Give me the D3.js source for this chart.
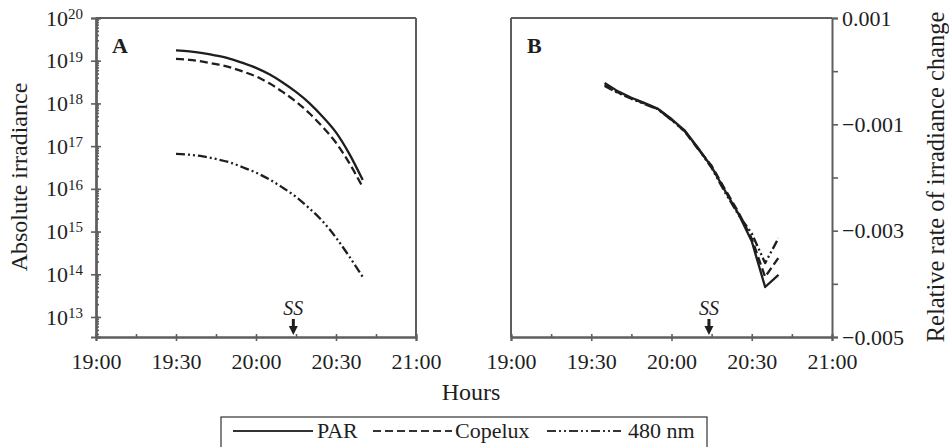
<!DOCTYPE html>
<html>
<head>
<meta charset="utf-8">
<script src="https://cdn.jsdelivr.net/npm/d3@7"></script>
<style>
  body { margin: 0; background: #fff; }
  svg { font-family: "Liberation Serif", "Times New Roman", serif; }
</style>
</head>
<body>
<svg id="chart" width="949" height="447"></svg>
<script>
// ---- data ----
// panel A: absolute irradiance (log scale)
var timesA = ["19:30","19:35","19:40","19:45","19:50","19:55","20:00","20:05","20:10","20:15","20:20","20:25","20:30","20:35","20:40"];
var parA     = [1.74e19,1.66e19,1.51e19,1.32e19,1.12e19,8.9e18,6.8e18,4.8e18,3.1e18,1.86e18,1.02e18,4.9e17,2.1e17,6.6e16,1.62e16];
var copeluxA = [1.10e19,1.05e19,9.5e18,8.3e18,7.1e18,5.6e18,4.3e18,2.95e18,1.86e18,1.10e18,5.9e17,2.8e17,1.2e17,4.0e16,1.10e16];
var nm480A   = [6.6e16,6.3e16,5.75e16,5.0e16,4.2e16,3.2e16,2.4e16,1.66e16,1.07e16,6.5e15,3.5e15,1.74e15,7.2e14,2.6e14,8.7e13];

// panel B: relative rate of irradiance change
var timesB = ["19:35","19:40","19:45","19:50","19:55","20:00","20:05","20:10","20:15","20:20","20:25","20:30","20:35","20:40"];
var parB     = [-0.00022,-0.00038,-0.00050,-0.00060,-0.00071,-0.00090,-0.00112,-0.00145,-0.00180,-0.00225,-0.00268,-0.00320,-0.00406,-0.00383];
var copeluxB = [-0.00025,-0.00040,-0.00051,-0.00061,-0.00072,-0.00091,-0.00114,-0.00147,-0.00178,-0.00222,-0.00265,-0.00315,-0.00387,-0.00351];
var nm480B   = [-0.00028,-0.00041,-0.00052,-0.00062,-0.00072,-0.00092,-0.00113,-0.00146,-0.00182,-0.00228,-0.00270,-0.00305,-0.00361,-0.00314];

var seriesNames = ["PAR", "Copelux", "480 nm"];
var timeTicks = ["19:00","19:30","20:00","20:30","21:00"];
var timeMinorTicks = ["19:00","19:15","19:30","19:45","20:00","20:15","20:30","20:45","21:00"];
var logTicks = [1e13,1e14,1e15,1e16,1e17,1e18,1e19,1e20];
var rateTicks = [0.001,0,-0.001,-0.002,-0.003,-0.004,-0.005];
var rateTickLabels = ["0.001","","\u22120.001","","\u22120.003","","\u22120.005"];
var sunsetTime = "20:14";

// ---- drawing ----
var svg = d3.select('#chart');
var ink = '#1e1e1e', frame = '#5e5e5e';
var dashes = [null, '8,4', '9,3,2,3,2,3'];

function toMin(s) { var p = s.split(':'); return (+p[0] - 19) * 60 + (+p[1]); }

var plotTop = 18, plotBottom = 337;
var xA = d3.scaleLinear().domain([0, 120]).range([96, 416]);
var xB = d3.scaleLinear().domain([0, 120]).range([511, 832]);
var yA = d3.scaleLog().domain([3.4e12, 1e20]).range([plotBottom, plotTop]);
var yB = d3.scaleLinear().domain([-0.005, 0.001]).range([plotBottom, plotTop]);

function styleAxis(g) {
  g.attr('font-family', null).attr('font-size', 22);
  g.selectAll('.domain').attr('stroke', frame).attr('stroke-width', 2);
  g.selectAll('.tick line').attr('stroke', frame).attr('stroke-width', 1.6);
  g.selectAll('.tick text').attr('fill', ink);
}

function timeAxis(x) {
  // minor ticks, inward
  svg.append('g')
    .attr('transform', 'translate(0,' + plotBottom + ')')
    .call(d3.axisBottom(x).tickValues(timeMinorTicks.map(toMin)).tickSize(-3).tickFormat(''))
    .call(styleAxis);
  svg.append('g')
    .attr('transform', 'translate(0,' + plotBottom + ')')
    .call(d3.axisBottom(x).tickValues(timeTicks.map(toMin)).tickSize(4).tickPadding(12)
      .tickFormat(function(d, i) { return timeTicks[i]; }))
    .call(styleAxis);
}

function frameLine(x1, y1, x2, y2) {
  svg.append('line').attr('x1', x1).attr('y1', y1).attr('x2', x2).attr('y2', y2)
    .attr('stroke', frame).attr('stroke-width', 2);
}

// panel A frame + axes
frameLine(96, plotTop, 416, plotTop);
frameLine(416, plotTop, 416, plotBottom);
timeAxis(xA);

var minorLog = [];
for (var e = 12; e < 20; e++) {
  for (var k = 1; k < 10; k++) {
    var v = k * Math.pow(10, e);
    if (v >= yA.domain()[0] && v <= 1e20) minorLog.push(v);
  }
}
svg.append('g')
  .attr('transform', 'translate(96,0)')
  .call(d3.axisLeft(yA).tickValues(minorLog).tickSize(-3).tickFormat(''))
  .call(styleAxis);
svg.append('g')
  .attr('transform', 'translate(96,0)')
  .call(d3.axisLeft(yA).tickValues(logTicks).tickSize(5).tickPadding(8))
  .call(styleAxis)
  .selectAll('.tick text')
  .each(function(d) {
    var t = d3.select(this);
    t.text(null);
    t.append('tspan').text('10');
    t.append('tspan').attr('dy', '-0.45em').attr('font-size', 15).text(Math.round(Math.log10(d)));
  });
svg.append('g')
  .attr('transform', 'translate(96,0)')
  .call(d3.axisLeft(yA).tickValues(logTicks).tickSize(-5).tickFormat(''))
  .call(styleAxis);

// panel B frame + axes
frameLine(511, plotTop, 832, plotTop);
frameLine(511, plotTop, 511, plotBottom);
timeAxis(xB);
svg.append('g')
  .attr('transform', 'translate(832,0)')
  .call(d3.axisRight(yB).tickValues(rateTicks).tickSize(6).tickPadding(4)
    .tickFormat(function(d, i) { return rateTickLabels[i]; }))
  .call(styleAxis);

// curves
var seriesA = [parA, copeluxA, nm480A];
var seriesB = [parB, copeluxB, nm480B];

var lineA = d3.line()
  .x(function(d) { return xA(toMin(d.t)); })
  .y(function(d) { return yA(d.v); })
  .curve(d3.curveMonotoneX);
var lineB = d3.line()
  .x(function(d) { return xB(toMin(d.t)); })
  .y(function(d) { return yB(d.v); });

seriesA.forEach(function(vals, i) {
  var pts = vals.map(function(v, j) { return { t: timesA[j], v: v }; });
  svg.append('path').attr('d', lineA(pts))
    .attr('fill', 'none').attr('stroke', ink).attr('stroke-width', 2.3)
    .attr('stroke-dasharray', dashes[i]);
});
seriesB.slice().reverse().forEach(function(vals, ri) {
  var i = seriesB.length - 1 - ri;
  var pts = vals.map(function(v, j) { return { t: timesB[j], v: v }; });
  svg.append('path').attr('d', lineB(pts))
    .attr('fill', 'none').attr('stroke', ink).attr('stroke-width', 2.3)
    .attr('stroke-linejoin', 'round')
    .attr('stroke-dasharray', dashes[i]);
});

// panel letters
svg.append('text').attr('x', 112).attr('y', 53).attr('font-weight', 'bold')
  .attr('font-size', 22).attr('fill', ink).text('A');
svg.append('text').attr('x', 527).attr('y', 53).attr('font-weight', 'bold')
  .attr('font-size', 22).attr('fill', ink).text('B');

// sunset markers
[xA, xB].forEach(function(x) {
  var sx = x(toMin(sunsetTime));
  svg.append('text').attr('x', sx).attr('y', 315).attr('text-anchor', 'middle')
    .attr('font-size', 20).attr('font-style', 'italic').attr('fill', ink).text('SS');
  svg.append('line').attr('x1', sx).attr('x2', sx).attr('y1', 319).attr('y2', 328)
    .attr('stroke', ink).attr('stroke-width', 3);
  svg.append('path')
    .attr('d', 'M' + (sx - 4.5) + ',326L' + (sx + 4.5) + ',326L' + sx + ',335Z')
    .attr('fill', ink);
});

// axis titles
svg.append('text').attr('x', 471).attr('y', 400).attr('text-anchor', 'middle')
  .attr('font-size', 24).attr('fill', ink).text('Hours');
svg.append('text').attr('transform', 'translate(27,177) rotate(-90)')
  .attr('text-anchor', 'middle').attr('font-size', 24).attr('fill', ink)
  .text('Absolute irradiance');
svg.append('text').attr('transform', 'translate(944,177) rotate(-90)')
  .attr('text-anchor', 'middle').attr('font-size', 24.5).attr('fill', ink)
  .text('Relative rate of irradiance change');

// legend
var legend = svg.append('g');
legend.append('rect').attr('x', 221).attr('y', 417).attr('width', 486).attr('height', 45)
  .attr('fill', 'none').attr('stroke', '#333').attr('stroke-width', 1.2);
var legendPos = [{ x1: 233, x2: 313, tx: 317 }, { x1: 373, x2: 452, tx: 455 }, { x1: 547, x2: 621, tx: 628 }];
seriesNames.forEach(function(name, i) {
  var p = legendPos[i];
  legend.append('line').attr('x1', p.x1).attr('x2', p.x2).attr('y1', 431).attr('y2', 431)
    .attr('stroke', '#333').attr('stroke-width', 2.2).attr('stroke-dasharray', dashes[i]);
  legend.append('text').attr('x', p.tx).attr('y', 438).attr('font-size', 22)
    .attr('fill', ink).text(name);
});
</script>
</body>
</html>
